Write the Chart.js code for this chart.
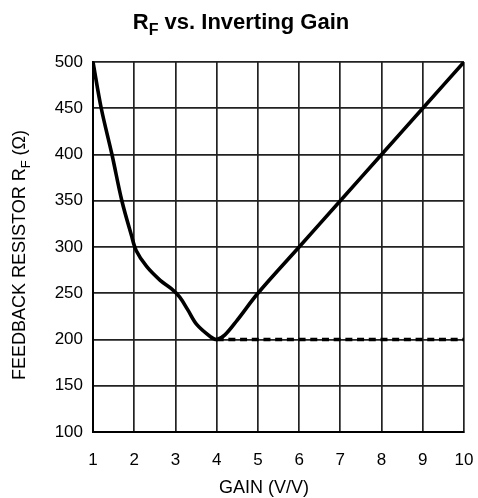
<!DOCTYPE html>
<html>
<head>
<meta charset="utf-8">
<script src="https://cdn.jsdelivr.net/npm/chart.js@4"></script>
<style>
  html, body { margin: 0; padding: 0; background: #fff; }
  #wrap { width: 478px; height: 498px; }
</style>
</head>
<body>
<div id="wrap"><canvas id="rfChart" width="478" height="498"></canvas></div>
<script>
// ==== Data ====
const gain = [1, 1.2, 1.46, 1.7, 1.93, 2.05, 2.3, 2.63, 2.9, 3.1, 3.3, 3.52, 3.85, 4, 4.2, 4.5, 5, 6, 7, 8, 9, 10];
const rf = [500, 450, 400, 350, 313, 296, 279, 264, 255, 246, 232, 216, 203, 200, 205, 221, 250, 300, 350, 400, 450, 500];
const floorGain = [4, 10];
const floorRf = [200, 200];
const xTicks = [1, 2, 3, 4, 5, 6, 7, 8, 9, 10];
const yTicks = [100, 150, 200, 250, 300, 350, 400, 450, 500];

const FONT = "'Liberation Sans', Arial, Helvetica, sans-serif";

// text with subscript pieces: [["R", false], ["F", true], ...]
function drawParts(ctx, parts, x, y, size, weight) {
  const subSize = Math.round(size * 0.72);
  let total = 0;
  parts.forEach(([t, sub]) => {
    ctx.font = `${weight} ${sub ? subSize : size}px ${FONT}`;
    total += ctx.measureText(t).width;
  });
  let cx = x - total / 2;
  ctx.textBaseline = "alphabetic";
  ctx.textAlign = "left";
  parts.forEach(([t, sub]) => {
    ctx.font = `${weight} ${sub ? subSize : size}px ${FONT}`;
    ctx.fillText(t, cx, sub ? y + size * 0.28 : y);
    cx += ctx.measureText(t).width;
  });
}

const labelPlugin = {
  id: "labels",
  afterDraw(chart) {
    const ctx = chart.ctx;
    ctx.save();
    ctx.fillStyle = "#000";
    // title
    drawParts(ctx, [["R", false], ["F", true], [" vs. Inverting Gain", false]],
      241, 29, 22, "bold");
    // x title
    drawParts(ctx, [["GAIN (V/V)", false]], 264, 493, 18, "normal");
    // y title
    ctx.translate(25, 255);
    ctx.rotate(-Math.PI / 2);
    drawParts(ctx, [["FEEDBACK RESISTOR R", false], ["F", true], [" (\u03A9)", false]], 0, 0, 18, "normal");
    ctx.restore();
  }
};

// ==== Chart ====
const ctx = document.getElementById("rfChart").getContext("2d");
new Chart(ctx, {
  type: "scatter",
  data: {
    datasets: [
      {
        data: gain.map((g, i) => ({ x: g, y: rf[i] })),
        showLine: true,
        borderColor: "#000",
        borderWidth: 3.6,
        pointRadius: 0,
        tension: 0.35,
        order: 1
      },
      {
        data: floorGain.map((g, i) => ({ x: g, y: floorRf[i] })),
        showLine: true,
        borderColor: "#000",
        borderWidth: 3.6,
        borderDash: [7, 4.7],
        pointRadius: 0,
        order: 2
      }
    ]
  },
  options: {
    responsive: false,
    animation: false,
    layout: { padding: { top: 62, right: 14, left: 0, bottom: 0 } },
    plugins: { legend: { display: false }, tooltip: { enabled: false } },
    scales: {
      x: {
        type: "linear",
        min: 1, max: 10,
        afterBuildTicks: s => { s.ticks = xTicks.map(v => ({ value: v })); },
        afterFit: s => { s.height = 66; s.paddingLeft = 0; s.paddingRight = 0; },
        grid: { color: "#222", lineWidth: 1.7, drawTicks: false },
        border: { color: "#000", width: 2 },
        ticks: { color: "#000", font: { family: FONT, size: 17 }, padding: 18, maxRotation: 0 }
      },
      y: {
        type: "linear",
        min: 100, max: 500,
        afterBuildTicks: s => { s.ticks = yTicks.map(v => ({ value: v })); },
        afterFit: s => { s.width = 93; s.paddingTop = 0; s.paddingBottom = 0; },
        grid: { color: "#222", lineWidth: 1.7, drawTicks: false },
        border: { color: "#000", width: 2 },
        ticks: { color: "#000", font: { family: FONT, size: 17 }, padding: 10 }
      }
    }
  },
  plugins: [labelPlugin]
});
</script>
</body>
</html>
